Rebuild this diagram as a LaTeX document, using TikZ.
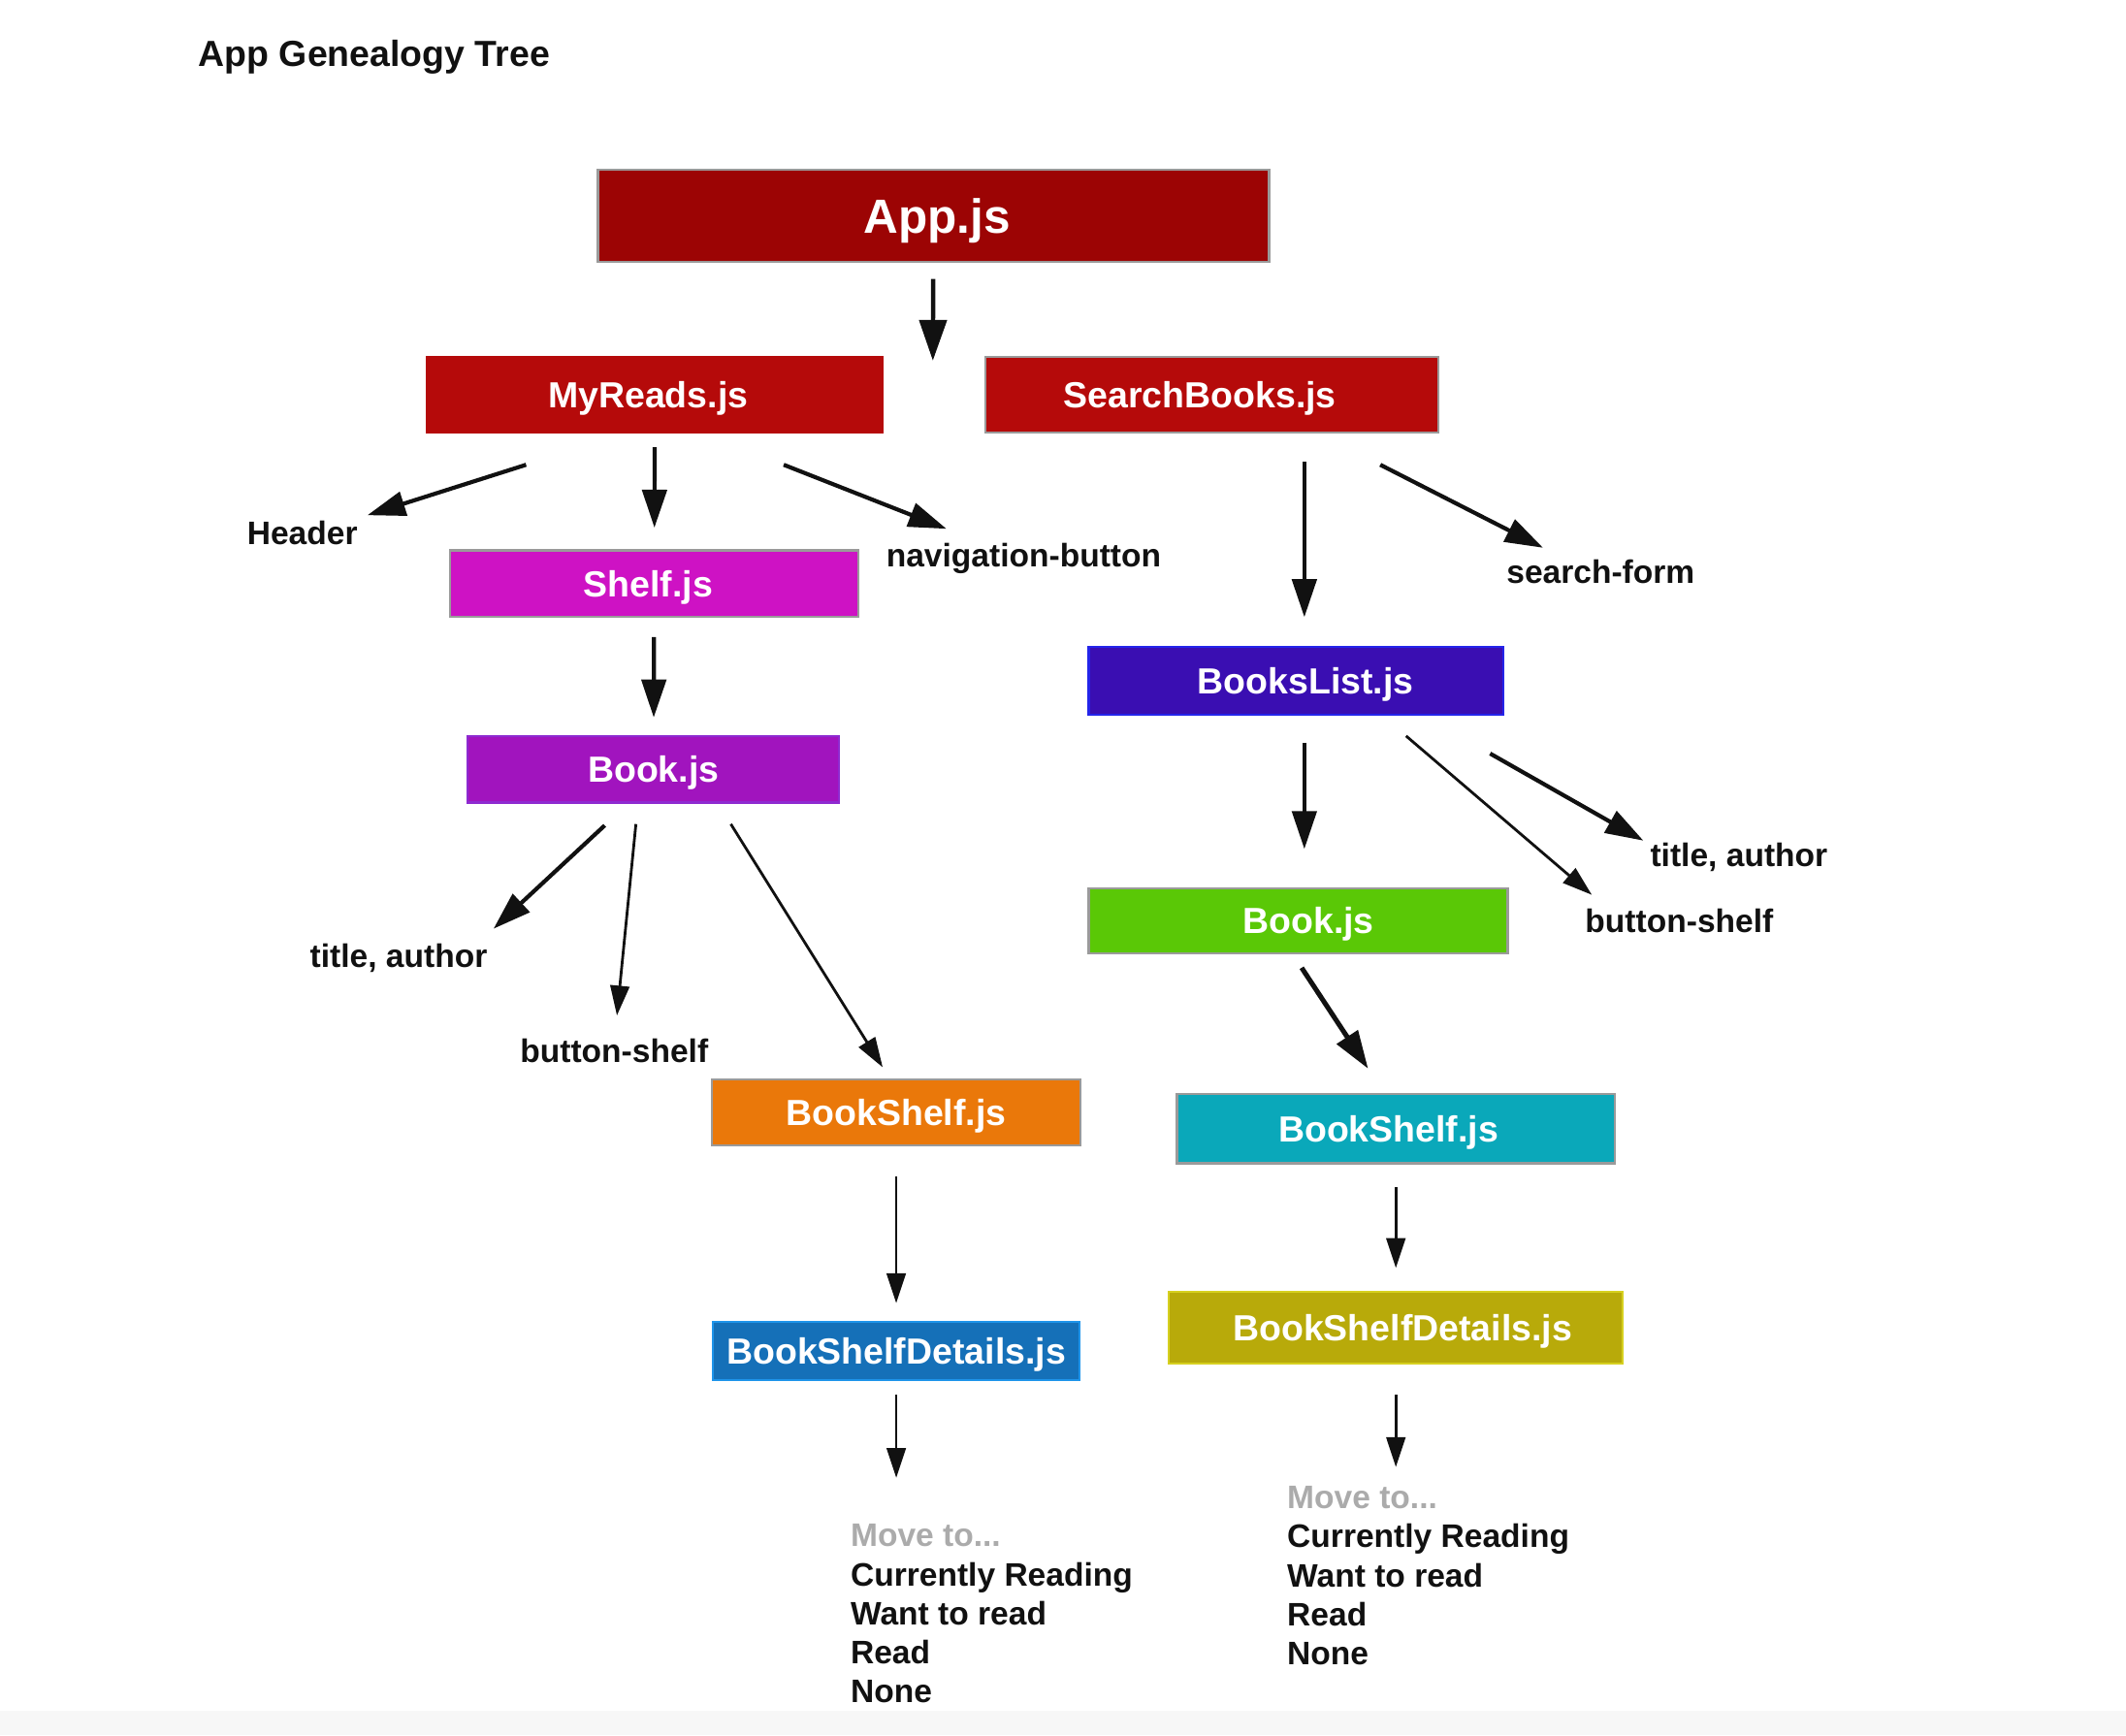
\documentclass[tikz,border=0pt]{standalone}
\usepackage{fontspec}
\setmainfont{Liberation Sans}
\usetikzlibrary{arrows.meta,calc}

\definecolor{appred}{HTML}{9C0404}
\definecolor{myred}{HTML}{B50A0A}
\definecolor{shelfmag}{HTML}{CE12C4}
\definecolor{bookpurple}{HTML}{A114BE}
\definecolor{bookedge}{HTML}{8E2AD0}
\definecolor{bsorange}{HTML}{EA780A}
\definecolor{detblue}{HTML}{1570B8}
\definecolor{detedge}{HTML}{1E94EA}
\definecolor{listblue}{HTML}{3A0EB2}
\definecolor{listedge}{HTML}{2424EA}
\definecolor{bookgreen}{HTML}{5AC806}
\definecolor{bsteal}{HTML}{0AA8BA}
\definecolor{detolive}{HTML}{B8AA0A}
\definecolor{oliveedge}{HTML}{D6D020}
\definecolor{boxgray}{HTML}{9A9A9A}
\definecolor{movegray}{HTML}{ABABAB}
\definecolor{inkblack}{HTML}{111111}

\tikzset{
  box/.style={draw=boxgray, line width=0.8pt, text=white, inner sep=0pt, text depth=0pt,
    font=\bfseries\fontsize{13.4}{16}\selectfont},
  tshift/.style={execute at begin node={\hspace*{#1}}},
  lbl/.style={inner sep=0pt, text=inkblack, font=\bfseries\fontsize{12}{14}\selectfont},
  arr/.style={-{Triangle[length=14pt,width=9pt]}, line width=1.5pt, draw=inkblack},
  thinarr/.style={-{Triangle[length=11pt,width=7pt]}, line width=1pt, draw=inkblack},
}

\begin{document}
\begin{tikzpicture}[x=0.5pt,y=-0.5pt]
  \useasboundingbox (0,0) rectangle (1568,1280);
  \fill[black!3] (0,1262) rectangle (1568,1280);

  \node[lbl, anchor=west, font=\bfseries\fontsize{13.4}{16}\selectfont] (title) at (146,42) {App Genealogy Tree};

  % components
  \node[box, fill=appred, minimum width=247.5pt, minimum height=34pt, tshift=2.5pt,
    font=\bfseries\fontsize{17.7}{20}\selectfont] (app) at (688.5,159) {App.js};
  \node[box, fill=myred, draw=myred, minimum width=168pt, minimum height=28pt, tshift=-5pt] (myreads) at (483,291) {MyReads.js};
  \node[box, fill=myred, minimum width=167pt, minimum height=28pt, tshift=-9pt] (search) at (894,291) {SearchBooks.js};
  \node[box, fill=shelfmag, minimum width=150.5pt, minimum height=24.5pt, tshift=-4.5pt] (shelf) at (482.5,430.5) {Shelf.js};
  \node[box, fill=bookpurple, draw=bookedge, minimum width=137pt, minimum height=24.5pt] (bookl) at (482,567.5) {Book.js};
  \node[box, fill=bsorange, minimum width=136pt, minimum height=24.5pt] (bshelfl) at (661,820.5) {BookShelf.js};
  \node[box, fill=detblue, draw=detedge, minimum width=135pt, minimum height=21.5pt] (detl) at (661,996.5) {BookShelfDetails.js};
  \node[box, fill=listblue, draw=listedge, minimum width=153pt, minimum height=25pt, tshift=7pt] (blist) at (956,502) {BooksList.js};
  \node[box, fill=bookgreen, minimum width=154.5pt, minimum height=24pt, tshift=7.5pt] (bookr) at (957.5,679) {Book.js};
  \node[box, fill=bsteal, minimum width=161.5pt, minimum height=25.5pt, tshift=-5.5pt] (bshelfr) at (1029.5,832.5) {BookShelf.js};
  \node[box, fill=detolive, draw=oliveedge, minimum width=167.5pt, minimum height=26.5pt, tshift=5pt] (detr) at (1029.5,979.5) {BookShelfDetails.js};

  % plain labels
  \node[lbl] (header) at (223,393) {Header};
  \node[lbl] (nav) at (755,412) {navigation-button};
  \node[lbl] (sform) at (1180.5,422) {search-form};
  \node[lbl] (titlel) at (294,707) {title, author};
  \node[lbl] (btnl) at (453,775) {button-shelf};
  \node[lbl] (titler) at (1282.5,632) {title, author};
  \node[lbl] (btnr) at (1238.5,679) {button-shelf};
  \node[lbl, anchor=north west, align=left, font=\bfseries\fontsize{12}{14.35}\selectfont] (movel) at (627,1124)
    {\textcolor{movegray}{Move to...}\\Currently Reading\\Want to read\\Read\\None};
  \node[lbl, anchor=north west, align=left, font=\bfseries\fontsize{12}{14.35}\selectfont] (mover) at (949,1096)
    {\textcolor{movegray}{Move to...}\\Currently Reading\\Want to read\\Read\\None};
  \coordinate (gap) at (688,266);

  % arrows
  \draw[arr, line width=1.6pt, -{Triangle[length=15pt,width=10pt]}, shorten <=6pt] (app) -- (gap);
  \draw[arr] ($(myreads.south)+(-95,23)$) -- ($(header)+(48,-13)$);
  \draw[arr, shorten <=5pt, shorten >=8pt] (myreads) -- (shelf);
  \draw[arr] ($(myreads.south)+(95,23)$) -- ($(nav)+(-57,-22)$);
  \draw[arr, shorten <=10.5pt, shorten >=10.5pt] ($(search.south -| blist.north)+(6,0)$) -- ($(blist.north)+(6,0)$);
  \draw[arr] ($(search.south)+(124,23)$) -- ($(sform)+(-42.5,-18)$);
  \draw[arr, shorten <=7pt, shorten >=6.5pt] (shelf) -- (bookl);
  \draw[arr] ($(bookl.south)+(-36,16)$) -- ($(titlel)+(70,-22)$);
  \draw[thinarr] ($(bookl.south)+(-13,15)$) -- ($(btnl)+(2,-26)$);
  \draw[thinarr] ($(bookl.south)+(57,15)$) -- ($(bshelfl.north)+(-10,-8)$);
  \draw[arr, shorten <=10pt, shorten >=14pt] ($(blist.south)+(6,0)$) -- ($(blist.south |- bookr.north)+(6,0)$);
  \draw[thinarr] ($(blist.south)+(81,15)$) -- ($(btnr)+(-64.5,-19)$);
  \draw[arr] ($(blist.south)+(143,28)$) -- ($(titler)+(-70.5,-12)$);
  \draw[arr, line width=1.8pt] ($(bookr.south)+(2.5,10)$) -- ($(bshelfr.north)+(-20.5,-18)$);
  \draw[thinarr, shorten <=11pt, shorten >=6.5pt] (bshelfl) -- (detl);
  \draw[thinarr, shorten <=8.5pt, shorten >=8.5pt] (bshelfr) -- (detr);
  \draw[thinarr, shorten <=5pt, shorten >=17pt] (detl) -- (detl |- movel.north);
  \draw[thinarr, shorten <=11pt, shorten >=7pt] (detr) -- (detr |- mover.north);
\end{tikzpicture}
\end{document}
